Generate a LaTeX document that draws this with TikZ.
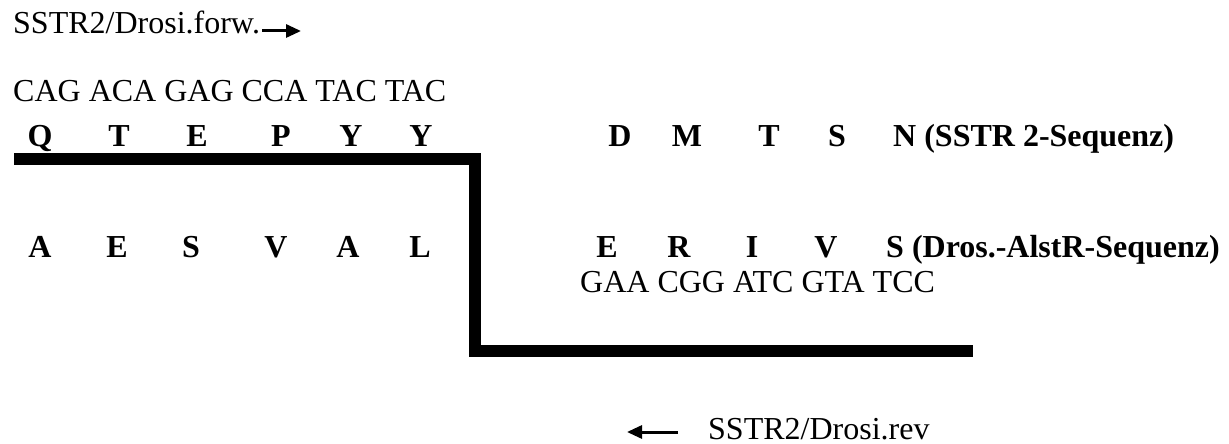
\documentclass[tikz,border=0pt]{standalone}
\usepackage{fontspec}
\setmainfont{Liberation Serif}
\usetikzlibrary{arrows.meta}
\begin{document}
\begin{tikzpicture}[x=1pt,y=-1pt,
  seq/.style={anchor=base west, inner sep=0pt, font=\fontsize{32}{38}\selectfont},
  aa/.style={anchor=base, inner sep=0pt, font=\fontsize{32}{38}\selectfont\bfseries},
  aalabel/.style={anchor=base west, inner sep=0pt, font=\fontsize{32}{38}\selectfont\bfseries},
  primer/.style={line width=3pt, -{Triangle[length=15pt,width=13pt]}},
  junction/.style={line width=12pt, line join=miter, line cap=butt}]
\useasboundingbox (0,0) rectangle (1229,444);

% forward primer
\node[seq] (fwd) at (13,34) {SSTR2/Drosi.forw.};
\coordinate (fwdA) at (262,31);
\coordinate (fwdB) at (301,31);
\draw[primer] (fwdA) -- (fwdB);

% SSTR2 codons and residues
\node[seq] (codonsTop) at (13,101) {CAG ACA GAG CCA TAC TAC};
\node[aa] (q1) at (40,146) {Q};
\node[aa] (t1) at (119,146) {T};
\node[aa] (e1) at (197,146) {E};
\node[aa] (p1) at (281,146) {P};
\node[aa] (y1) at (351,146) {Y};
\node[aa] (y2) at (421,146) {Y};
\node[aa] (d1) at (620,146) {D};
\node[aa] (m1) at (687,146) {M};
\node[aa] (t2) at (769,146) {T};
\node[aa] (s1) at (837,146) {S};
\node[aalabel] (sstr) at (893,146) {N (SSTR 2-Sequenz)};

% junction of the two sequences
\coordinate (j1) at (14,159);
\coordinate (j2) at (475,159);
\coordinate (j3) at (475,351);
\coordinate (j4) at (973,351);
\draw[junction] (j1) -- (j2) -- (j3) -- (j4);

% Drosophila AlstR residues and codons
\node[aa] (a1) at (40,257) {A};
\node[aa] (e2) at (117,257) {E};
\node[aa] (s2) at (191,257) {S};
\node[aa] (v1) at (276,257) {V};
\node[aa] (a2) at (348,257) {A};
\node[aa] (l1) at (420,257) {L};
\node[aa] (e3) at (607,257) {E};
\node[aa] (r1) at (679,257) {R};
\node[aa] (i1) at (752,257) {I};
\node[aa] (v2) at (826,257) {V};
\node[aalabel] (alstr) at (886,257) {S (Dros.-AlstR-Sequenz)};
\node[seq] (codonsBot) at (580,292) {GAA CGG ATC GTA TCC};

% reverse primer
\coordinate (revA) at (678,432);
\coordinate (revB) at (627,432);
\draw[primer] (revA) -- (revB);
\node[seq] (rev) at (708,439) {SSTR2/Drosi.rev};
\end{tikzpicture}
\end{document}
